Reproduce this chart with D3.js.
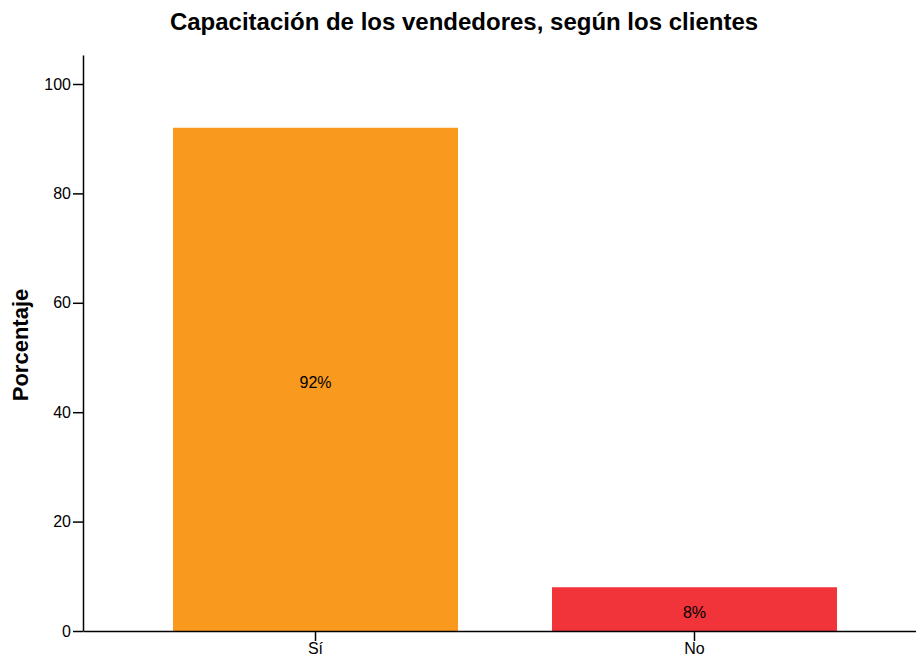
<!DOCTYPE html>
<html lang="es">
<head>
<meta charset="UTF-8">
<title>Capacitación de los vendedores</title>
<script src="https://cdn.jsdelivr.net/npm/d3@7"></script>
<style>
  body { margin: 0; background: #fff; }
  svg { display: block; font-family: "Liberation Sans", Arial, sans-serif; }
</style>
</head>
<body>
<svg width="916" height="658"></svg>
<script>
    // data
    const categories = ["Sí", "No"];
    const percents = [92, 8];
    const barColors = ["#f99a1f", "#f0343a"];
    const yTicks = [0, 20, 40, 60, 80, 100];

    const svg = d3.select("svg");
    const plotLeft = 83, plotBottom = 631, plotTop = 55;

    const y = d3.scaleLinear()
        .domain([0, 105.3])
        .range([plotBottom, plotTop]);

    const x = d3.scaleBand()
        .domain(categories)
        .range([plotLeft, 927])
        .paddingInner(0.248)
        .paddingOuter(0.2375);

    // bars
    svg.append("g")
        .selectAll("rect")
        .data(categories)
        .join("rect")
        .attr("x", d => x(d))
        .attr("width", x.bandwidth())
        .attr("y", (d, i) => y(percents[i]))
        .attr("height", (d, i) => y(0) - y(percents[i]))
        .attr("fill", (d, i) => barColors[i]);

    // value labels
    svg.append("g")
        .selectAll("text")
        .data(categories)
        .join("text")
        .attr("x", d => x(d) + x.bandwidth() / 2)
        .attr("y", (d, i) => (y(percents[i]) + y(0)) / 2 + 3)
        .attr("dy", "0.35em")
        .attr("text-anchor", "middle")
        .style("font-size", "16px")
        .attr("fill", "#000")
        .text((d, i) => percents[i] + "%");

    // y axis
    const yAxis = svg.append("g")
        .attr("transform", `translate(${plotLeft},0)`)
        .call(d3.axisLeft(y).tickValues(yTicks).tickSize(10).tickSizeOuter(0).tickPadding(2));
    yAxis.select(".domain").attr("stroke", "#000").attr("stroke-width", 1.5);
    yAxis.selectAll(".tick line").attr("stroke", "#000").attr("stroke-width", 1.5);
    yAxis.selectAll(".tick text")
        .style("font-size", "16px")
        .style("font-family", "'Liberation Sans', Arial, sans-serif")
        .attr("fill", "#000");

    // x axis
    const xAxis = svg.append("g")
        .attr("transform", `translate(0,${plotBottom})`)
        .call(d3.axisBottom(x).tickSize(10).tickSizeOuter(0).tickPadding(2));
    xAxis.select(".domain").attr("stroke", "#000").attr("stroke-width", 1.5);
    xAxis.selectAll(".tick line").attr("stroke", "#000").attr("stroke-width", 1.5);
    xAxis.selectAll(".tick text")
        .style("font-size", "16px")
        .style("font-family", "'Liberation Sans', Arial, sans-serif")
        .attr("fill", "#000");

    // title
    svg.append("text")
        .attr("x", 464)
        .attr("y", 30)
        .attr("text-anchor", "middle")
        .style("font-size", "24px")
        .style("font-weight", "bold")
        .text("Capacitación de los vendedores, según los clientes");

    // y axis title
    svg.append("text")
        .attr("transform", "translate(28,345) rotate(-90)")
        .attr("text-anchor", "middle")
        .style("font-size", "22px")
        .style("font-weight", "bold")
        .text("Porcentaje");
</script>
</body>
</html>
